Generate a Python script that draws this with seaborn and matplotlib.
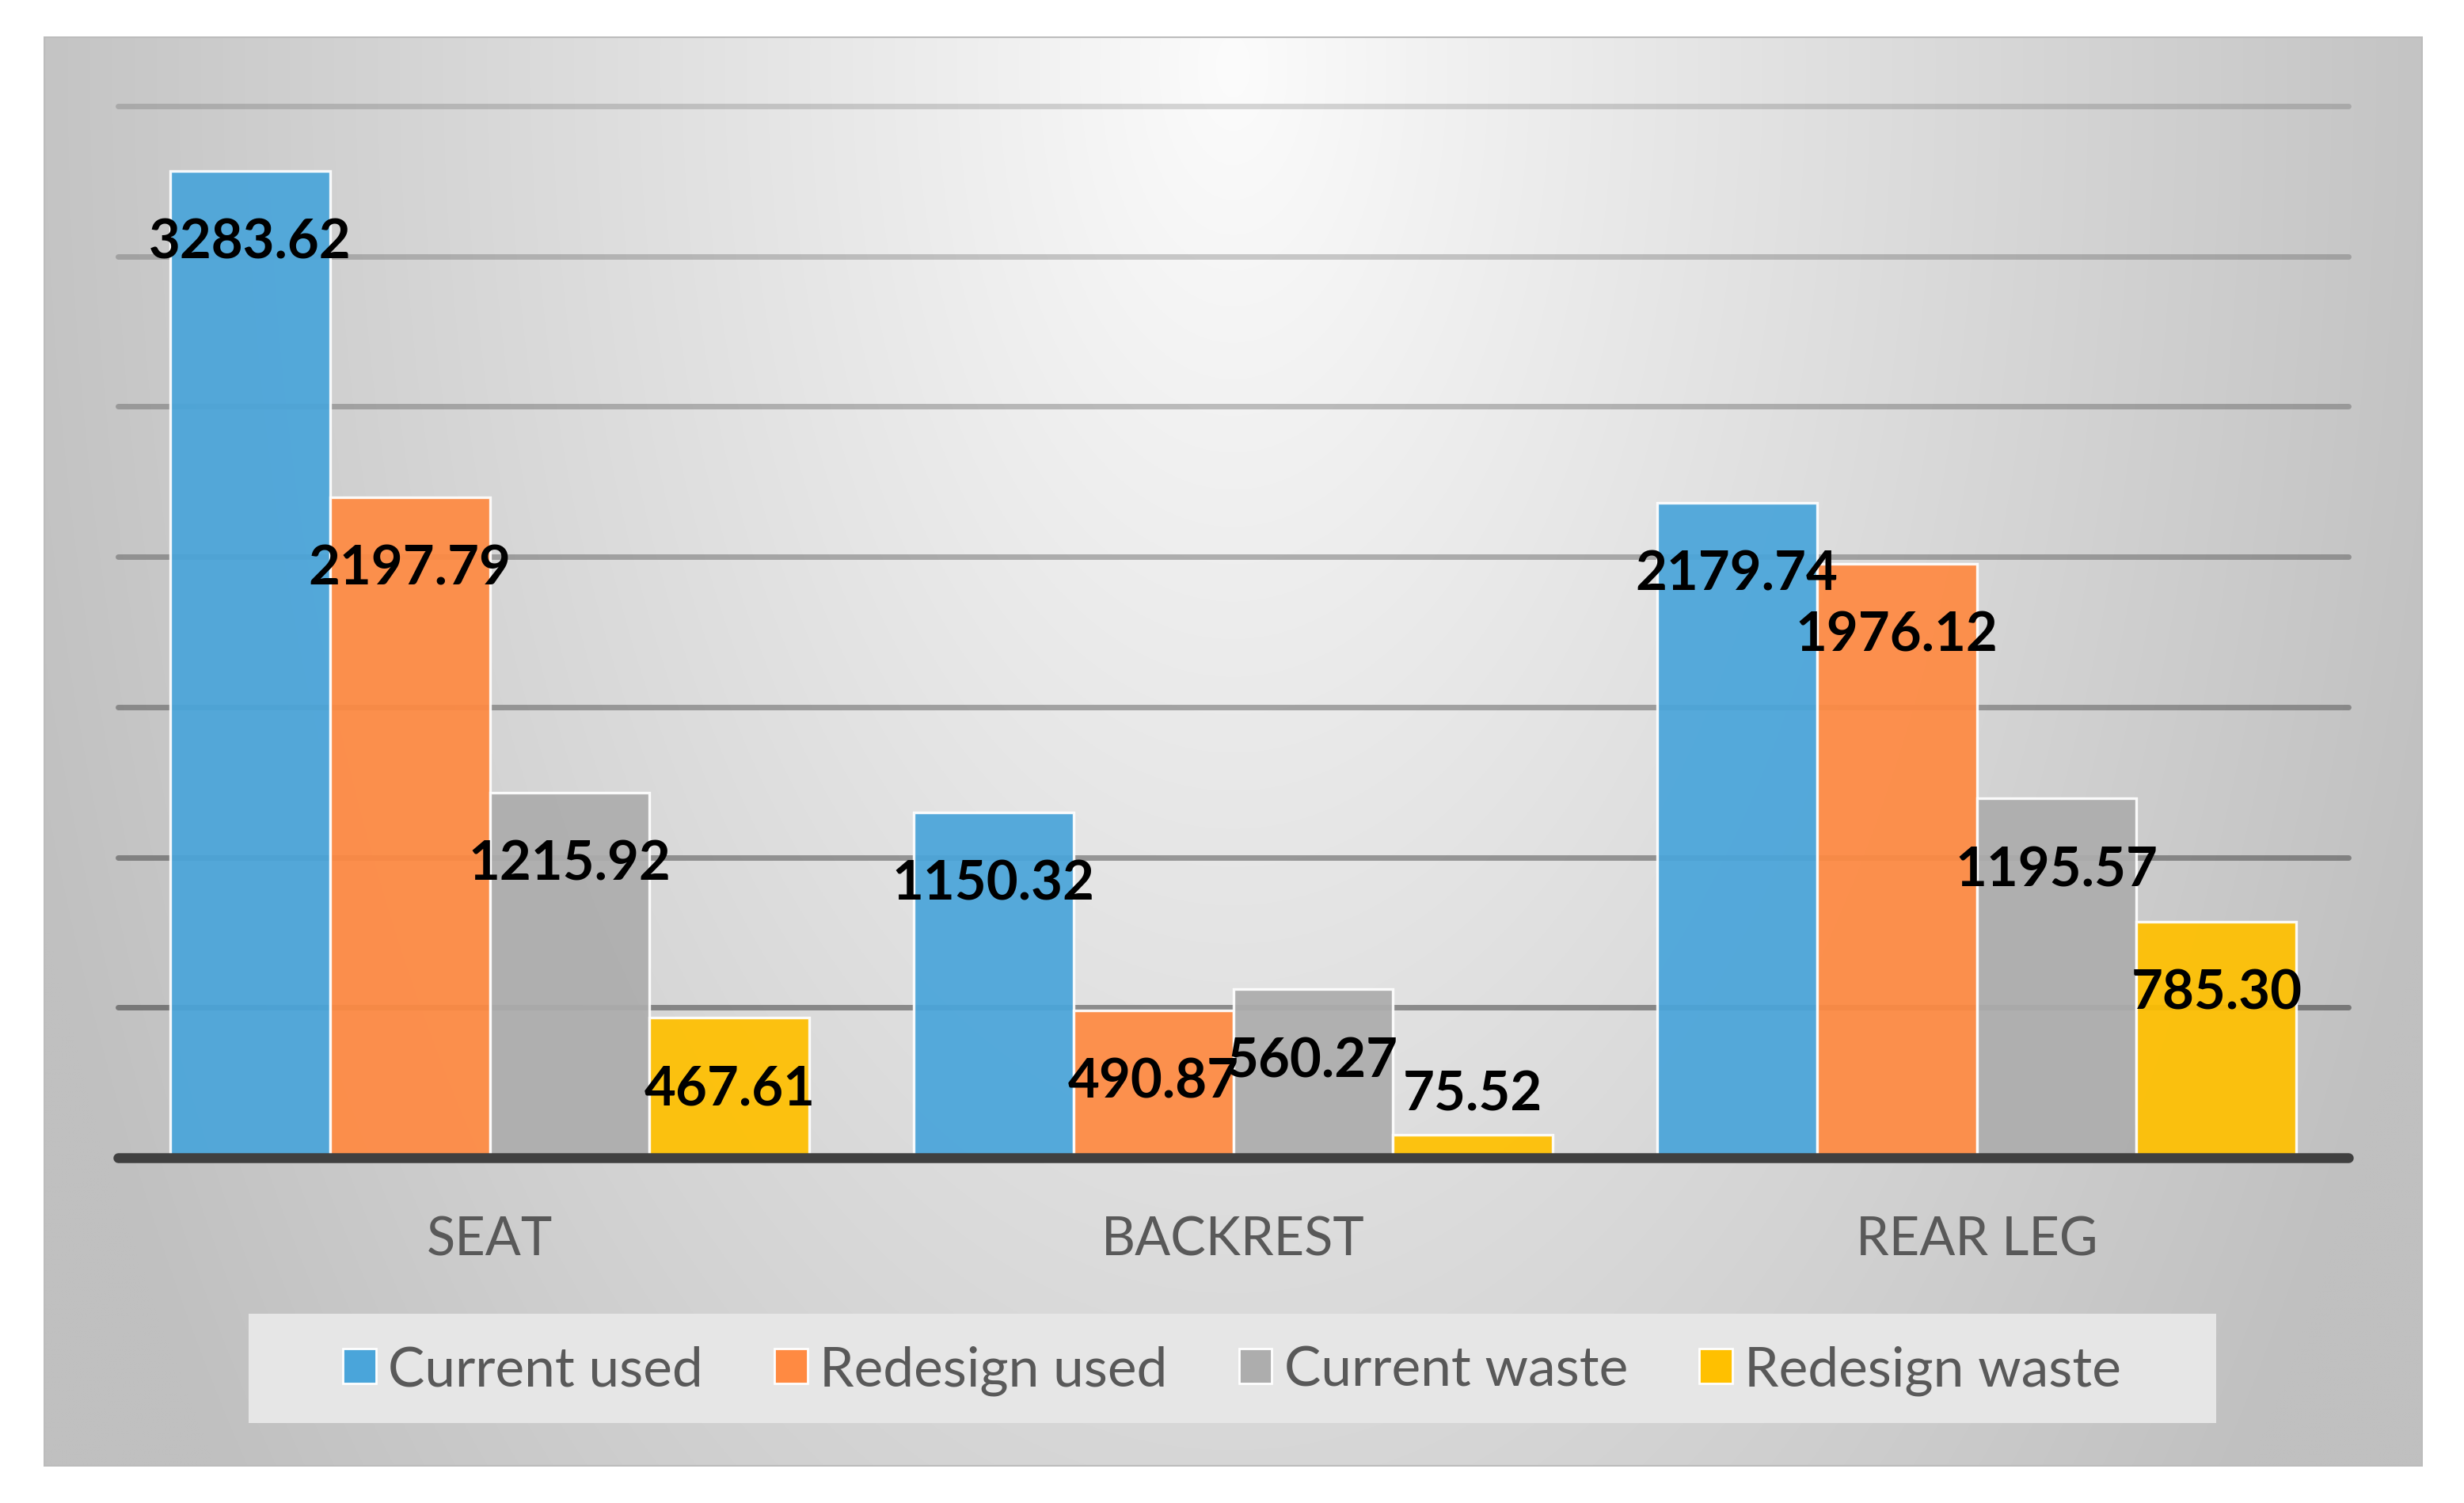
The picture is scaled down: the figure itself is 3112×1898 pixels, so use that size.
import numpy as np
import pandas as pd
import matplotlib
matplotlib.use("Agg")
import matplotlib.pyplot as plt
from matplotlib.patches import Patch, Rectangle
import seaborn as sns

# ---- data ----
parts = ["SEAT", "BACKREST", "REAR LEG"]
series = ["Current used", "Redesign used", "Current waste", "Redesign waste"]
current_used = [3283.62, 1150.32, 2179.74]
redesign_used = [2197.79, 490.87, 1976.12]
current_waste = [1215.92, 560.27, 1195.57]
redesign_waste = [467.61, 75.52, 785.30]
colors = ["#4aa5da", "#ff8a42", "#adadad", "#ffc000"]
grid_values = [500, 1000, 1500, 2000, 2500, 3000, 3500]

rows = []
for s, vals in zip(series, [current_used, redesign_used, current_waste, redesign_waste]):
    for p, v in zip(parts, vals):
        rows.append({"part": p, "series": s, "value": v})
df = pd.DataFrame(rows)

sns.set_theme(style="white")
plt.rcParams["font.family"] = ["Lato", "DejaVu Sans"]

W, H, DPI = 3112, 1899, 200
fig = plt.figure(figsize=(W / DPI, H / DPI), dpi=DPI)
fig.patch.set_facecolor("white")

# ---- gradient panel background ----
px0, px1, py0, py1 = 55, 3060, 47, 1853
bg = fig.add_axes([px0 / W, 1 - py1 / H, (px1 - px0) / W, (py1 - py0) / H], zorder=0)
gx = np.linspace(0, 1, 600)
gy = np.linspace(0, 1, 400)
X, Y = np.meshgrid(gx, gy)
r = np.sqrt(((X - 0.5) / 0.5) ** 2 + ((Y - 0.02) / 1.5) ** 2)
v = np.clip(252 - 56 * r ** 0.95, 192, 253) / 255.0
img = np.dstack([v, v, v])
bg.imshow(img, aspect="auto", extent=[0, 1, 1, 0], interpolation="bilinear")
bg.set_xlim(0, 1); bg.set_ylim(1, 0)
bg.axis("off")
bg.add_patch(Rectangle((0, 0), 1, 1, transform=bg.transAxes, fill=False,
                       edgecolor="#bcbcbc", lw=1.5))

# ---- main axes ----
ax0, ax1, ay0, ay1 = 149, 2966, 135, 1463
ax = fig.add_axes([ax0 / W, 1 - ay1 / H, (ax1 - ax0) / W, (ay1 - ay0) / H], zorder=2)
ax.patch.set_alpha(0)

sns.barplot(data=df, x="part", y="value", hue="series", order=parts, hue_order=series,
            palette=colors, width=0.86, saturation=1, edgecolor="white", linewidth=1.2,
            alpha=0.93, errorbar=None, ax=ax, zorder=3)
leg = ax.get_legend()
if leg:
    leg.remove()

ax.set_xlim(-0.5, 2.5)
ax.set_ylim(0, 3500)

# gridlines (darker toward bottom)
alphas = np.linspace(0.38, 0.15, len(grid_values))
for gv, a in zip(grid_values, alphas):
    ax.axhline(gv, color="black", alpha=a, lw=2.5, zorder=1, clip_on=False)
ax.axhline(0, color="#404040", lw=4.5, zorder=4, clip_on=False)

for sp in ax.spines.values():
    sp.set_visible(False)
ax.set_yticks([])
ax.set_xlabel("")
ax.set_ylabel("")
ax.tick_params(axis="x", length=0, pad=26, labelsize=24, labelcolor="#595959")

# bar labels
for cont in ax.containers:
    for bar in cont:
        h = bar.get_height()
        xc = bar.get_x() + bar.get_width() / 2
        off = -32.5 if h > 300 else 18.5
        ax.annotate(f"{h:.2f}", (xc, h), xytext=(0, off), textcoords="offset points",
                    ha="center", va="center", fontsize=24.8, fontweight="bold",
                    color="black", zorder=6)

# ---- legend ----
lx0, lx1, ly0, ly1 = 314, 2799, 1660, 1798
fig.add_artist(Rectangle((lx0 / W, 1 - ly1 / H), (lx1 - lx0) / W, (ly1 - ly0) / H,
                         transform=fig.transFigure, facecolor="#e6e6e6",
                         edgecolor="none", zorder=1))
handles = [Patch(facecolor=c, edgecolor="white", lw=1.0) for c in colors]
lg = fig.legend(handles, series, loc="center", bbox_to_anchor=(0.5, 1 - 1731 / H),
                ncol=4, frameon=False, fontsize=25, handlelength=0.6,
                handleheight=0.6, handletextpad=0.22, columnspacing=1.3)
for t in lg.get_texts():
    t.set_color("#595959")
lg.set_zorder(5)

fig.savefig("out.png", dpi=DPI)
